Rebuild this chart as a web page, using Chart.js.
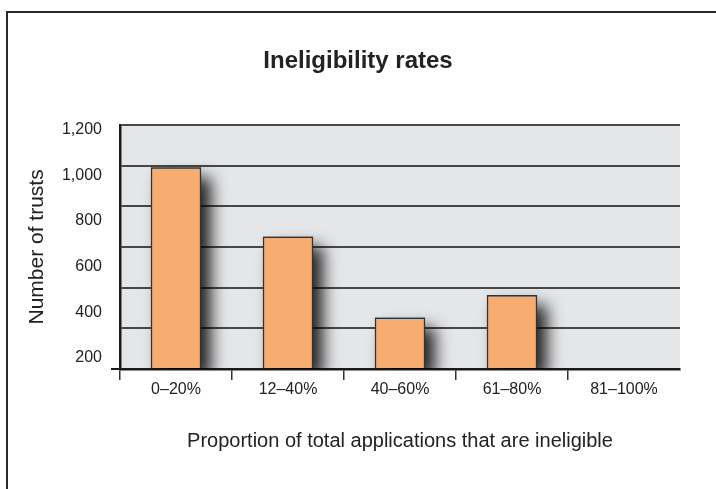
<!DOCTYPE html>
<html>
<head>
<meta charset="utf-8">
<script src="https://cdn.jsdelivr.net/npm/chart.js@4"></script>
<style>
    html, body { margin: 0; padding: 0; background: #fff; }
    #wrap { position: relative; width: 716px; height: 489px; overflow: hidden; }
    #frame {
        position: absolute; left: 6px; top: 11px; width: 900px; height: 700px;
        border-left: 2px solid #2a2a2a; border-top: 2px solid #2a2a2a;
        pointer-events: none;
    }
</style>
</head>
<body>
<div id="wrap">
    <canvas id="ineligibilityChart" width="716" height="489"></canvas>
    <div id="frame"></div>
</div>
<script>
// Ineligibility rates - number of trusts per band
const categories = ['0–20%', '12–40%', '40–60%', '61–80%', '81–100%'];
const trusts = [990, 650, 252, 362, 0];
const yTickLabels = [200, 400, 600, 800, 1000, 1200];

const FONT = "'Liberation Sans', Arial, Helvetica, sans-serif";
const TEXT = '#222';

// grey plot background
const plotBackground = {
    id: 'plotBackground',
    beforeDraw(chart) {
        const a = chart.chartArea;
        const ctx = chart.ctx;
        ctx.save();
        ctx.fillStyle = '#e5e6e8';
        ctx.fillRect(a.left, a.top, a.right - a.left, a.bottom - a.top);
        ctx.restore();
    }
};

// soft dark shadow on the right of each bar (the bar element clips its own shadow)
const barShadow = {
    id: 'barShadow',
    beforeDatasetDraw(chart, args) {
        const ctx = chart.ctx;
        const a = chart.chartArea;
        ctx.save();
        ctx.beginPath();
        ctx.rect(a.left, a.top, a.right - a.left, a.bottom - a.top);
        ctx.clip();
        ctx.shadowColor = 'rgba(0, 0, 0, 0.85)';
        ctx.shadowBlur = 16;
        ctx.shadowOffsetX = 10;
        ctx.shadowOffsetY = 10;
        ctx.fillStyle = '#555';
        args.meta.data.forEach(bar => {
            const h = bar.base - bar.y;
            if (h <= 0) return;
            ctx.fillRect(bar.x - bar.width / 2, bar.y, bar.width, h);
        });
        ctx.restore();
    }
};

new Chart(document.getElementById('ineligibilityChart'), {
    type: 'bar',
    data: {
        labels: categories,
        datasets: [{
            label: 'Number of trusts',
            data: trusts,
            backgroundColor: '#f7ad6f',
            borderColor: '#333',
            borderWidth: 1.5,
            barThickness: 50,
            yAxisID: 'y'
        }]
    },
    options: {
        responsive: false,
        animation: false,
        layout: {
            padding: { left: 36, right: 36, top: 0, bottom: 0 }
        },
        plugins: {
            legend: { display: false },
            tooltip: { enabled: false },
            title: {
                display: true,
                text: 'Ineligibility rates',
                color: TEXT,
                font: { family: FONT, size: 24, weight: 'bold' },
                padding: { top: 47, bottom: 49 }
            }
        },
        scales: {
            x: {
                z: 1,
                grid: {
                    drawOnChartArea: false,
                    drawTicks: true,
                    tickLength: 11,
                    lineWidth: 1.5,
                    tickColor: function(c) {
                        return c.type === 'tick' ? '#333' : 'rgba(0,0,0,0)';
                    }
                },
                border: { display: true, color: '#1a1a1a', width: 2.5 },
                ticks: {
                    color: TEXT,
                    padding: 0,
                    font: { family: FONT, size: 16 }
                },
                title: {
                    display: true,
                    text: 'Proportion of total applications that are ineligible',
                    color: TEXT,
                    font: { family: FONT, size: 20 },
                    padding: { top: 0, bottom: 36 }
                },
                afterFit(scale) { scale.height = 120; }
            },
            y: {
                position: 'left',
                weight: 0,
                min: 0,
                max: 1200,
                ticks: { display: false, stepSize: 200 },
                grid: {
                    color: '#474747',
                    lineWidth: 2,
                    drawTicks: true,
                    tickLength: 9,
                    tickColor: function(c) {
                        return c.tick && c.tick.value === 0 ? '#1a1a1a' : 'rgba(0,0,0,0)';
                    }
                },
                border: { display: true, color: '#1a1a1a', width: 2.5 },
                afterFit(scale) { scale.width = 0; }
            },
            yLabels: {
                type: 'linear',
                position: 'left',
                weight: 1,
                min: 151.8,
                max: 1221.9,
                grid: { display: false, drawTicks: false },
                border: { display: false },
                afterBuildTicks(scale) {
                    scale.ticks = yTickLabels.map(v => ({ value: v }));
                },
                ticks: {
                    color: TEXT,
                    padding: 18,
                    font: { family: FONT, size: 16 },
                    callback: v => v.toLocaleString('en-US')
                },
                title: {
                    display: true,
                    text: 'Number of trusts',
                    color: TEXT,
                    font: { family: FONT, size: 21 },
                    padding: { top: -11, bottom: 0 }
                },
                afterFit(scale) { scale.width = 84; }
            }
        }
    },
    plugins: [plotBackground, barShadow]
});
</script>
</body>
</html>
